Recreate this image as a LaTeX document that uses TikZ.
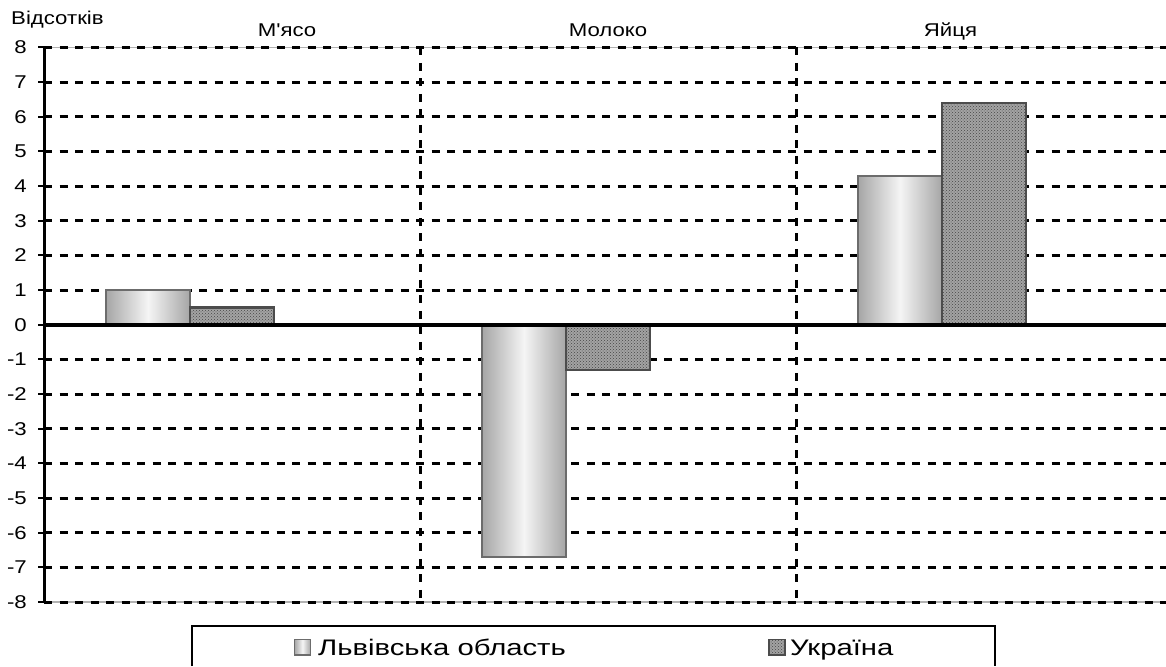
\documentclass[tikz,border=0pt]{standalone}
\usepackage{fontspec}
\newfontfamily\arial{Liberation Sans}[FakeStretch=1.2]
\newfontfamily\arialL{Liberation Sans}[FakeStretch=1.3]
\usetikzlibrary{patterns}
\def\pyz{324.75}
\def\pyu{34.66}
\tikzset{
  grid/.style={line width=3pt, dash pattern=on 8pt off 7.5pt},
  vsep/.style={line width=3pt, dash pattern=on 8pt off 7.5pt},
  tick/.style={line width=2pt},
  lvivbar/.style={draw=gray!85!black, line width=2pt, left color=gray!70, right color=gray!70, middle color=gray!8},
  ukrfill/.style={fill=gray!72},
  ukrdots/.style={pattern=crosshatch dots, pattern color=gray!55!black},
  ukrborder/.style={draw=black!70, line width=2.5pt},
  ticklab/.style={anchor=east, font=\arial\fontsize{18.5}{18.5}\selectfont, inner sep=0pt},
  catlab/.style={anchor=base, font=\arial\fontsize{18.5}{18.5}\selectfont, inner sep=0pt},
  leglab/.style={anchor=base west, font=\arialL\fontsize{22.5}{22.5}\selectfont, inner sep=0pt}
}
\begin{document}
\begin{tikzpicture}[x=1pt,y=-1pt]
\useasboundingbox (0,0) rectangle (1166,666);
\fill[white] (0,0) rectangle (1166,666);

% plot frame (thin gray) top and bottom
\draw[gray!60, line width=1.5pt] (44,{\pyz-\pyu*8}) -- (1166,{\pyz-\pyu*8});
\draw[gray!60, line width=1.5pt] (44,{\pyz+\pyu*8}) -- (1166,{\pyz+\pyu*8});

% gridlines, ticks, tick labels
\foreach \v in {-8,-7,-6,-5,-4,-3,-2,-1,1,2,3,4,5,6,7,8}{
  \draw[grid] (44,{\pyz-\pyu*\v}) -- (1166,{\pyz-\pyu*\v});
  \draw[tick] (38,{\pyz-\pyu*\v}) -- (44,{\pyz-\pyu*\v});
  \node[ticklab] (t\v) at (27,{\pyz-\pyu*\v}) {\v};
}
\draw[tick] (38,\pyz) -- (44,\pyz);
\node[ticklab] (t0) at (27,\pyz) {0};

% category separators
\coordinate (s1t) at (420,{\pyz-\pyu*8});
\coordinate (s1b) at (420,{\pyz+\pyu*8});
\coordinate (s2t) at (796,{\pyz-\pyu*8});
\coordinate (s2b) at (796,{\pyz+\pyu*8});
\draw[vsep] (s1t) -- (s1b);
\draw[vsep] (s2t) -- (s2b);

% bars: Lviv region
\draw[lvivbar] (106,\pyz) rectangle (190,{\pyz-\pyu*1.0});
\draw[lvivbar] (482,\pyz) rectangle (566,{\pyz+\pyu*6.7});
\draw[lvivbar] (858,\pyz) rectangle (942,{\pyz-\pyu*4.3});

% bars: Ukraine
\foreach \xa/\xb/\v in {190/274/0.5, 566/650/-1.3, 942/1026/6.4}{
  \fill[ukrfill] (\xa,\pyz) rectangle (\xb,{\pyz-\pyu*\v});
  \fill[ukrdots] (\xa,\pyz) rectangle (\xb,{\pyz-\pyu*\v});
  \draw[ukrborder] (\xa,\pyz) rectangle (\xb,{\pyz-\pyu*\v});
}

% axes
\draw[line width=4pt] (44,\pyz) -- (1166,\pyz);
\draw[line width=3pt] (44,{\pyz-\pyu*8}) -- (44,{\pyz+\pyu*8});
\foreach \xx in {44,420,796}{
  \draw[line width=3pt] (\xx,\pyz) -- (\xx,{\pyz+7});
}

% labels
\node[catlab, anchor=base west] (ylab) at (11,25) {Відсотків};
\node[catlab] (c1) at (287,37) {М'ясо};
\node[catlab] (c2) at (608,37) {Молоко};
\node[catlab] (c3) at (950.5,37) {Яйця};

% legend
\draw[line width=2pt] (192,666) -- (192,626) -- (995,626) -- (995,666);
\draw[draw=gray!85!black, line width=1.5pt, left color=gray!70, right color=gray!70, middle color=gray!8] (294.5,639.5) rectangle (310.5,655);
\node[leglab] (l1) at (318,655) {Львівська область};
\fill[gray!72] (769,639.5) rectangle (785,655);
\fill[ukrdots] (769,639.5) rectangle (785,655);
\draw[draw=black!70, line width=1.5pt] (769,639.5) rectangle (785,655);
\node[leglab] (l2) at (790,655) {Україна};
\end{tikzpicture}
\end{document}
